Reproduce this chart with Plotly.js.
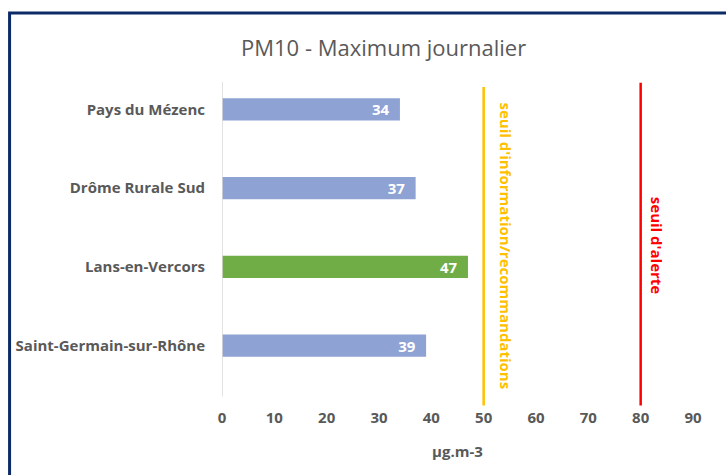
<!DOCTYPE html>
<html>
<head>
<meta charset="utf-8">
<script src="https://cdn.plot.ly/plotly-3.0.1.min.js"></script>
<style>html,body{margin:0;padding:0;background:#fff;}#chart{width:726px;height:475px;}</style>
</head>
<body>
<div id="chart"></div>
<script>
// Data
const stations = ["Pays du Mézenc", "Drôme Rurale Sud", "Lans-en-Vercors", "Saint-Germain-sur-Rhône"];
const pm10Max = [34, 37, 47, 39];
const barColors = ["#8FA2D4", "#8FA2D4", "#70AD47", "#8FA2D4"];
const thresholdValues = [50, 80];
const thresholdLabels = ["seuil d'information/recommandations", "seuil d'alerte"];
const thresholdColors = ["#FFC000", "#FF0000"];
const xTickVals = [0, 10, 20, 30, 40, 50, 60, 70, 80, 90];
const chartTitle = "PM10 - Maximum journalier";
const xTitle = "µg.m-3";

// Layout geometry (pixels)
const W = 726, H = 475;
const mL = 221.7, mR = 32.7, mT = 70, mB = 89.5;
const pw = W - mL - mR, ph = H - mT - mB;
const px2x = p => (p - mL) / pw;          // pixel x -> paper x
const py2y = p => (H - mB - p) / ph;      // pixel y -> paper y

const font = "'Open Sans', Lato, sans-serif";
const grey = "#595959";

const shapes = [
  // Outer navy frame
  {type: "rect", xref: "paper", yref: "paper", x0: px2x(9), x1: px2x(760), y0: py2y(520), y1: py2y(13),
   line: {color: "#0B2A66", width: 3}, fillcolor: "rgba(0,0,0,0)", layer: "below"},
  // Vertical category axis line
  {type: "line", xref: "x", yref: "paper", x0: 0, x1: 0, y0: py2y(397), y1: py2y(82),
   line: {color: "#D9D9D9", width: 1.5}}
];
const thresholdTops = [87, 82.7];
thresholdValues.forEach((v, i) => {
  shapes.push({type: "line", xref: "x", yref: "paper", x0: v, x1: v,
    y0: py2y(406), y1: py2y(thresholdTops[i]),
    line: {color: thresholdColors[i], width: 2.5}});
});

const labelOffsets = [4.3, 3.1];
const annotations = thresholdValues.map((v, i) => ({
  xref: "x", yref: "paper", x: v + labelOffsets[i], y: py2y(246),
  xanchor: "center", yanchor: "middle",
  text: "<b>" + thresholdLabels[i] + "</b>", showarrow: false, textangle: 90,
  font: {family: font, size: 15, color: thresholdColors[i]}
}));
annotations.push({
  xref: "paper", yref: "paper", x: px2x(383), y: py2y(47),
  xanchor: "center", yanchor: "middle",
  text: chartTitle, showarrow: false,
  font: {family: font, size: 22, color: grey}
});

const trace = {
  type: "bar", orientation: "h",
  y: stations, x: pm10Max,
  marker: {color: barColors},
  width: 0.285,
  text: pm10Max.map(v => v + "\u00A0\u00A0"),
  textposition: "inside", insidetextanchor: "end", textangle: 0, constraintext: "none",
  insidetextfont: {family: font, size: 15, color: "#FFFFFF", weight: "bold"},
  hoverinfo: "x+y"
};

const layout = {
  width: W, height: H,
  margin: {l: mL, r: mR, t: mT, b: mB, pad: 0},
  paper_bgcolor: "#FFFFFF", plot_bgcolor: "#FFFFFF",
  showlegend: false,
  font: {family: font, color: grey},
  xaxis: {
    range: [0, 90], tickvals: xTickVals, ticks: "", showgrid: false, zeroline: false, showline: false,
    tickfont: {family: font, size: 15, color: grey, weight: "bold"},
    ticklabelstandoff: 22,
    title: {text: "<b>" + xTitle + "</b>", font: {family: font, size: 15, color: grey}, standoff: 20}
  },
  yaxis: {
    autorange: "reversed", type: "category", showgrid: false, zeroline: false, showline: false, ticks: "",
    tickfont: {family: font, size: 15, color: grey, weight: "bold"},
    ticklabelstandoff: 16
  },
  shapes: shapes,
  annotations: annotations
};

Plotly.newPlot("chart", [trace], layout, {displayModeBar: false, staticPlot: true});
</script>
</body>
</html>
